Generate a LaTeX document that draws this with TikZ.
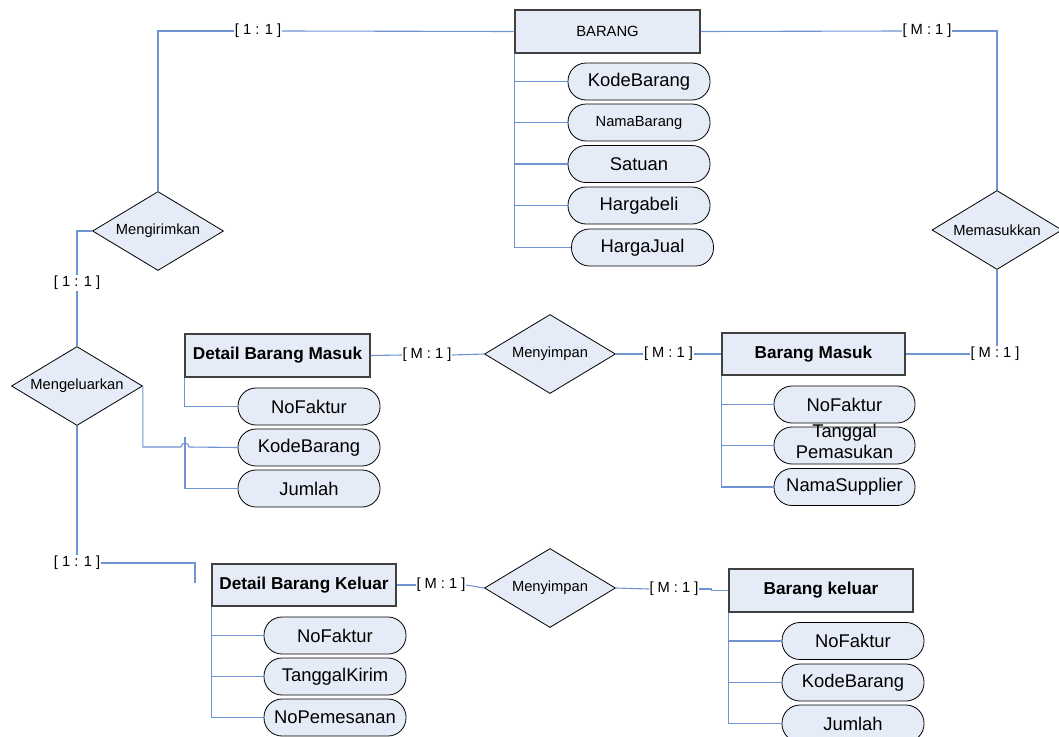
\documentclass[tikz,border=0pt]{standalone}
\usepackage{fontspec}
\setmainfont{Liberation Sans}
\usetikzlibrary{shapes.geometric}
\definecolor{fillc}{HTML}{E6ECF7}
\definecolor{linec}{HTML}{6F93D3}
\definecolor{boxc}{HTML}{404040}
\begin{document}
\begin{tikzpicture}[x=1pt,y=-1pt,
  entity/.style={draw=boxc, line width=1.3pt, fill=fillc, inner sep=0pt, minimum width=185pt, minimum height=43pt, font=\fontsize{17.2}{20}\selectfont\bfseries},
  attr/.style={draw=black, line width=0.8pt, fill=fillc, rounded corners=18pt, minimum width=142pt, minimum height=37pt, inner sep=0pt, font=\fontsize{18.4}{21}\selectfont},
  rel/.style={diamond, draw=black, line width=0.8pt, fill=fillc, minimum width=131pt, minimum height=79pt, inner sep=0pt, aspect=1.66, font=\fontsize{14.7}{17}\selectfont},
  card/.style={inner sep=0.5pt, font=\fontsize{14.7}{17}\selectfont},
  conn/.style={draw=linec, line width=1.1pt}]
\useasboundingbox (0,0) rectangle (1059,736);

% entities
\node[entity, font=\fontsize{14.8}{17}\selectfont] (barang) at (607.5,31.5) {BARANG};
\node[entity] (dbm) at (277.5,355.5) {Detail Barang Masuk};
\node[entity, minimum width=183pt, minimum height=42pt] (bm) at (813.5,354) {Barang Masuk};
\node[entity, minimum width=184pt, minimum height=42pt] (dbk) at (304,585) {Detail Barang Keluar};
\node[entity, minimum width=184pt] (bk) at (821,590.5) {Barang keluar};

% attributes of BARANG
\node[attr] (bKode) at (639,81.5) {KodeBarang};
\node[attr, font=\fontsize{14.7}{17}\selectfont] (bNama) at (639,122.5) {NamaBarang};
\node[attr] (bSat) at (639,164) {Satuan};
\node[attr] (bBeli) at (639,205.5) {Hargabeli};
\node[attr] (bJual) at (642.5,247.5) {HargaJual};

% attributes of Detail Barang Masuk
\node[attr] (dbmNo) at (309,406.5) {NoFaktur};
\node[attr] (dbmKode) at (309,447.5) {KodeBarang};
\node[attr] (dbmJml) at (309,488.5) {Jumlah};

% attributes of Barang Masuk
\node[attr, minimum width=141pt] (bmNo) at (844.5,404.5) {NoFaktur};
\node[attr, minimum width=141pt] (bmTgl) at (844.5,445.5) {\raisebox{-3pt}[0pt][0pt]{\begin{tabular}{@{}c@{}}Tanggal\\[0pt]Pemasukan\end{tabular}}};
\node[attr, minimum width=141pt] (bmSup) at (844.5,487) {NamaSupplier};

% attributes of Detail Barang Keluar
\node[attr] (dbkNo) at (335,635.5) {NoFaktur};
\node[attr] (dbkTgl) at (335,676.5) {TanggalKirim};
\node[attr] (dbkPes) at (335,717.5) {NoPemesanan};

% attributes of Barang keluar
\node[attr] (bkNo) at (853,641) {NoFaktur};
\node[attr] (bkKode) at (853,682.5) {KodeBarang};
\node[attr] (bkJml) at (853,723.5) {Jumlah};

% relationships
\node[rel] (kirim) at (158,231) {Mengirimkan};
\node[rel] (keluar) at (77,386) {Mengeluarkan};
\node[rel, minimum width=130pt] (masuk) at (997,230) {Memasukkan};
\node[rel] (simpan1) at (550,354) {Menyimpan};
\node[rel] (simpan2) at (550,588) {Menyimpan};

% cardinalities
\node[card] (c1) at (258,31) {[ 1 : 1 ]};
\node[card] (c2) at (927,31) {[ M : 1 ]};
\node[card] (c3) at (77,283) {[ 1 : 1 ]};
\node[card] (c4) at (427,355) {[ M : 1 ]};
\node[card] (c5) at (668.5,354) {[ M : 1 ]};
\node[card] (c6) at (995,354) {[ M : 1 ]};
\node[card] (c7) at (77,563) {[ 1 : 1 ]};
\node[card] (c8) at (441,585) {[ M : 1 ]};
\node[card] (c9) at (674,589) {[ M : 1 ]};

\coordinate (stub) at (195,583);
\coordinate (jtop) at (185,437);

% connectors
\draw[conn] (barang.west) -- (c1.east);
\draw[conn] (c1.west) -| (kirim.north);
\draw[conn] (barang.east) -- (c2.west);
\draw[conn] (c2.east) -| (masuk.north);
\draw[conn] (kirim.west) -| (c3.north);
\draw[conn] (c3.south) -- (keluar.north);
\draw[conn] (keluar.south) -- (c7.north);
\draw[conn] (c7.east) -| (stub);
\draw[conn] (keluar.east) |- (181,447) arc[start angle=180, end angle=0, radius=4pt] -- (dbmKode.west);

\draw[conn] (barang.south west) |- (bKode.west);
\draw[conn] (barang.south west) |- (bNama.west);
\draw[conn] (barang.south west) |- (bSat.west);
\draw[conn] (barang.south west) |- (bBeli.west);
\draw[conn] (barang.south west) |- (bJual.west);

\draw[conn] (dbm.south west) |- (dbmNo.west);
\draw[conn] (jtop) |- (dbmJml.west);
\draw[conn] (dbm.east) -- (c4.west);
\draw[conn] (c4.east) -- (simpan1.west);
\draw[conn] (simpan1.east) -- (c5.west);
\draw[conn] (c5.east) -- (bm.west);
\draw[conn] (bm.east) -- (c6.west);
\draw[conn] (masuk.south) -- (masuk.south |- c6.north);

\draw[conn] (bm.south west) |- (bmNo.west);
\draw[conn] (bm.south west) |- (bmTgl.west);
\draw[conn] (bm.south west) |- (bmSup.west);

\draw[conn] (dbk.east) -- (c8.west);
\draw[conn] (c8.east) -- (simpan2.west);
\draw[conn] (simpan2.east) -- (c9.west);
\draw[conn] (c9.east) -- ++(12,0) |- (bk.west);

\draw[conn] (dbk.south west) |- (dbkNo.west);
\draw[conn] (dbk.south west) |- (dbkTgl.west);
\draw[conn] (dbk.south west) |- (dbkPes.west);

\draw[conn] (bk.south west) |- (bkNo.west);
\draw[conn] (bk.south west) |- (bkKode.west);
\draw[conn] (bk.south west) |- (bkJml.west);
\end{tikzpicture}
\end{document}
